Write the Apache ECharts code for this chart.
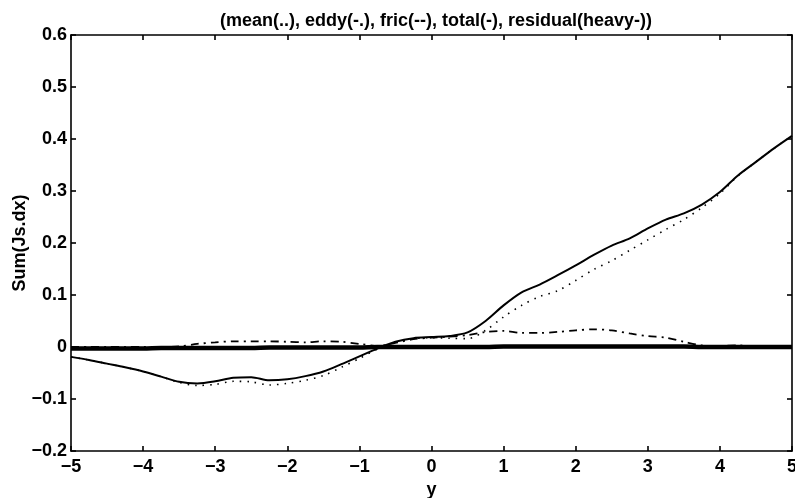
<!DOCTYPE html>
<html>
<head>
<meta charset="utf-8">
<script src="https://cdn.jsdelivr.net/npm/echarts@6/dist/echarts.min.js"></script>
<style>
html,body{margin:0;padding:0;background:#fff;}
#chart{width:795px;height:498px;}
</style>
</head>
<body>
<div id="chart"></div>
<script>
// x positions (y coordinate)
var xs = [-5,-4.75,-4.5,-4.25,-4,-3.75,-3.5,-3.25,-3,-2.75,-2.5,-2.25,-2,-1.75,-1.5,-1.25,-1,-0.75,-0.5,-0.25,0,0.25,0.5,0.75,1,1.25,1.5,1.75,2,2.25,2.5,2.75,3,3.25,3.5,3.75,4,4.25,4.5,4.75,5];
var meanVals = [-0.019,-0.025,-0.032,-0.039,-0.047,-0.057,-0.068,-0.074,-0.072,-0.066,-0.067,-0.073,-0.070,-0.064,-0.055,-0.039,-0.022,-0.004,0.009,0.016,0.018,0.017,0.016,0.032,0.058,0.080,0.097,0.108,0.128,0.149,0.166,0.186,0.206,0.226,0.245,0.268,0.295,0.329,0.356,0.382,0.406];
var eddyVals = [0.000,0.000,0.000,0.000,0.000,0.000,0.001,0.006,0.009,0.011,0.011,0.011,0.010,0.009,0.011,0.010,0.006,0.002,0.008,0.015,0.018,0.020,0.023,0.029,0.031,0.027,0.027,0.029,0.032,0.034,0.032,0.026,0.021,0.018,0.010,0.003,0.002,0.003,0.001,0.000,0.000];
var fricVals = [-0.002,-0.002,-0.002,-0.002,-0.002,-0.002,-0.002,-0.001,-0.001,-0.001,-0.001,-0.001,-0.001,-0.001,0.000,0.000,0.000,0.000,0.000,0.000,0.000,0.000,0.000,0.000,0.000,0.000,0.000,0.000,0.000,0.000,0.000,0.000,0.000,0.000,0.000,0.000,0.000,0.001,0.001,0.001,0.001];
var totalVals = [-0.019,-0.025,-0.032,-0.039,-0.047,-0.057,-0.067,-0.070,-0.066,-0.059,-0.058,-0.064,-0.062,-0.056,-0.047,-0.033,-0.018,-0.003,0.010,0.017,0.019,0.021,0.028,0.050,0.080,0.105,0.120,0.138,0.157,0.177,0.195,0.209,0.228,0.245,0.257,0.274,0.298,0.330,0.356,0.382,0.406];
var residualVals = [-0.003,-0.003,-0.003,-0.003,-0.003,-0.002,-0.002,-0.002,-0.002,-0.002,-0.002,-0.001,-0.001,-0.001,-0.001,-0.001,-0.001,0.000,0.000,0.000,0.000,0.000,0.000,0.000,0.001,0.001,0.001,0.001,0.001,0.001,0.001,0.001,0.001,0.001,0.001,0.000,0.000,0.000,0.000,0.000,0.000];
var titleText = '(mean(..), eddy(-.), fric(--), total(-), residual(heavy-))';
var xName = 'y';
var yName = 'Sum(Js.dx)';

function pairs(v){ return xs.map(function(x,i){ return [x, v[i]]; }); }
function fmt(v){
  var s = (Math.round(v*10)/10).toString();
  return s.replace('-', '\u2212');
}
var FONT = 'Liberation Sans, Arial, Helvetica, sans-serif';
var FS = 18;
var axisLine = {onZero:false, lineStyle:{color:'#000', width:1.6}};
var tick = {inside:true, length:5, lineStyle:{color:'#000', width:1.6}};
var chart = echarts.init(document.getElementById('chart'), null, {renderer:'canvas'});
chart.setOption({
  backgroundColor:'#fff',
  animation:false,
  title:{text:titleText, left:431, textAlign:'center', top:7,
    textStyle:{fontFamily:FONT, fontWeight:'bold', fontSize:FS, color:'#000'}},
  grid:{left:71, right:3, top:35, bottom:47, containLabel:false, outerBoundsMode:'none'},
  xAxis:[{
    type:'value', min:-5, max:5, interval:1, position:'bottom',
    name:xName, nameLocation:'middle', nameGap:30, nameMoveOverlap:false,
    nameTextStyle:{fontFamily:FONT, fontWeight:'bold', fontSize:FS, color:'#000'},
    axisLine:axisLine, axisTick:tick,
    axisLabel:{fontFamily:FONT, fontWeight:'bold', fontSize:FS, color:'#000', margin:7, formatter:fmt},
    splitLine:{show:false}
  },{
    type:'value', min:-5, max:5, interval:1, position:'top',
    axisLine:axisLine, axisTick:tick,
    axisLabel:{show:false}, splitLine:{show:false}
  }],
  yAxis:[{
    type:'value', min:-0.2, max:0.6, interval:0.1, position:'left',
    name:yName, nameLocation:'middle', nameGap:42, nameRotate:90, nameMoveOverlap:false,
    nameTextStyle:{fontFamily:FONT, fontWeight:'bold', fontSize:FS, color:'#000'},
    axisLine:axisLine, axisTick:tick,
    axisLabel:{fontFamily:FONT, fontWeight:'bold', fontSize:FS, color:'#000', margin:4, formatter:fmt},
    splitLine:{show:false}
  },{
    type:'value', min:-0.2, max:0.6, interval:0.1, position:'right',
    axisLine:axisLine, axisTick:tick,
    axisLabel:{show:false}, splitLine:{show:false}
  }],
  series:[
    {name:'residual', type:'line', data:pairs(residualVals), showSymbol:false, smooth:0.3,
      lineStyle:{color:'#000', width:4.5, type:'solid'}},
    {name:'fric', type:'line', data:pairs(fricVals), showSymbol:false, smooth:0.3,
      lineStyle:{color:'#000', width:1.2, type:[6,4]}},
    {name:'eddy', type:'line', data:pairs(eddyVals), showSymbol:false, smooth:0.3,
      lineStyle:{color:'#000', width:1.8, type:[8,5,2,5]}},
    {name:'mean', type:'line', data:pairs(meanVals), showSymbol:false, smooth:0.3,
      lineStyle:{color:'#000', width:1.6, type:[1.5,6]}},
    {name:'total', type:'line', data:pairs(totalVals), showSymbol:false, smooth:0.3,
      lineStyle:{color:'#000', width:2, type:'solid'}}
  ]
});
</script>
</body>
</html>
